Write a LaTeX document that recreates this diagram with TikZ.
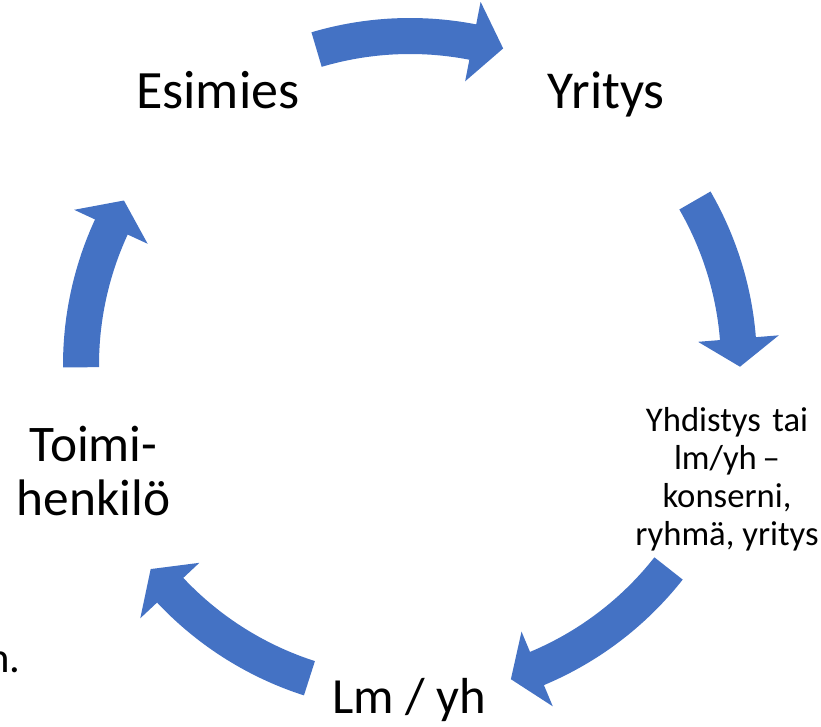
\documentclass[tikz,border=0pt]{standalone}
\usepackage{fontspec}
\setmainfont{Carlito}
\definecolor{arrowblue}{HTML}{4472C4}
\newcommand{\cycarrow}[3]{%
\fill[arrowblue] plot[domain=#1:#2, samples=40] ({410+347*cos(\x)},{365+347*sin(\x)})
 -- ({410+370*cos(#2)},{365+370*sin(#2)})
 -- ({410+330*cos(#3)},{365+330*sin(#3)})
 -- ({410+289*cos(#2)},{365+289*sin(#2)})
 -- plot[domain=#2:#1, samples=40] ({410+311*cos(\x)},{365+311*sin(\x)}) -- cycle;}
\begin{document}
\begin{tikzpicture}[x=0.75pt,y=-0.75pt,
  bigtext/.style={inner sep=0pt, font=\fontsize{39}{40}\selectfont, align=center},
  smalltext/.style={inner sep=0pt, font=\fontsize{26}{28.3}\selectfont, align=center}]
\useasboundingbox (0,0) rectangle (821,727);
% arrows
\cycarrow{253.5}{281}{286.4}
\cycarrow{-30}{-4.6}{0.3}
\cycarrow{38.2}{67.3}{72.2}
\cycarrow{107.8}{136.8}{141.8}
\cycarrow{179.6}{204.8}{209.9}
% texts
\node[bigtext, font=\fontsize{40.5}{40}\selectfont, anchor=base] (esimies) at (217.8,108.3) {Esimies};
\node[bigtext, font=\fontsize{40}{40}\selectfont, anchor=base] (yritys) at (606.3,108.3) {Yritys};
\node[bigtext, font=\fontsize{38}{40}\selectfont, anchor=base] (lmyh) at (409,713.3) {Lm / yh};
\node[bigtext, font=\fontsize{38.5}{40}\selectfont, anchor=base] (toimi) at (93.5,515) {Toimi-\\henkilö};
\node[smalltext, anchor=base] (yhdistys) at (727,545) {Yhdistys\hspace{0.33em}tai\\lm/yh\,–\\konserni,\\ryhmä, yritys};
\begin{scope}
\clip (0,0) rectangle (821,727);
\node[inner sep=0pt, font=\fontsize{32}{36}\selectfont, anchor=base east] (nfrag) at (21,672) {n.};
\end{scope}
\end{tikzpicture}
\end{document}
